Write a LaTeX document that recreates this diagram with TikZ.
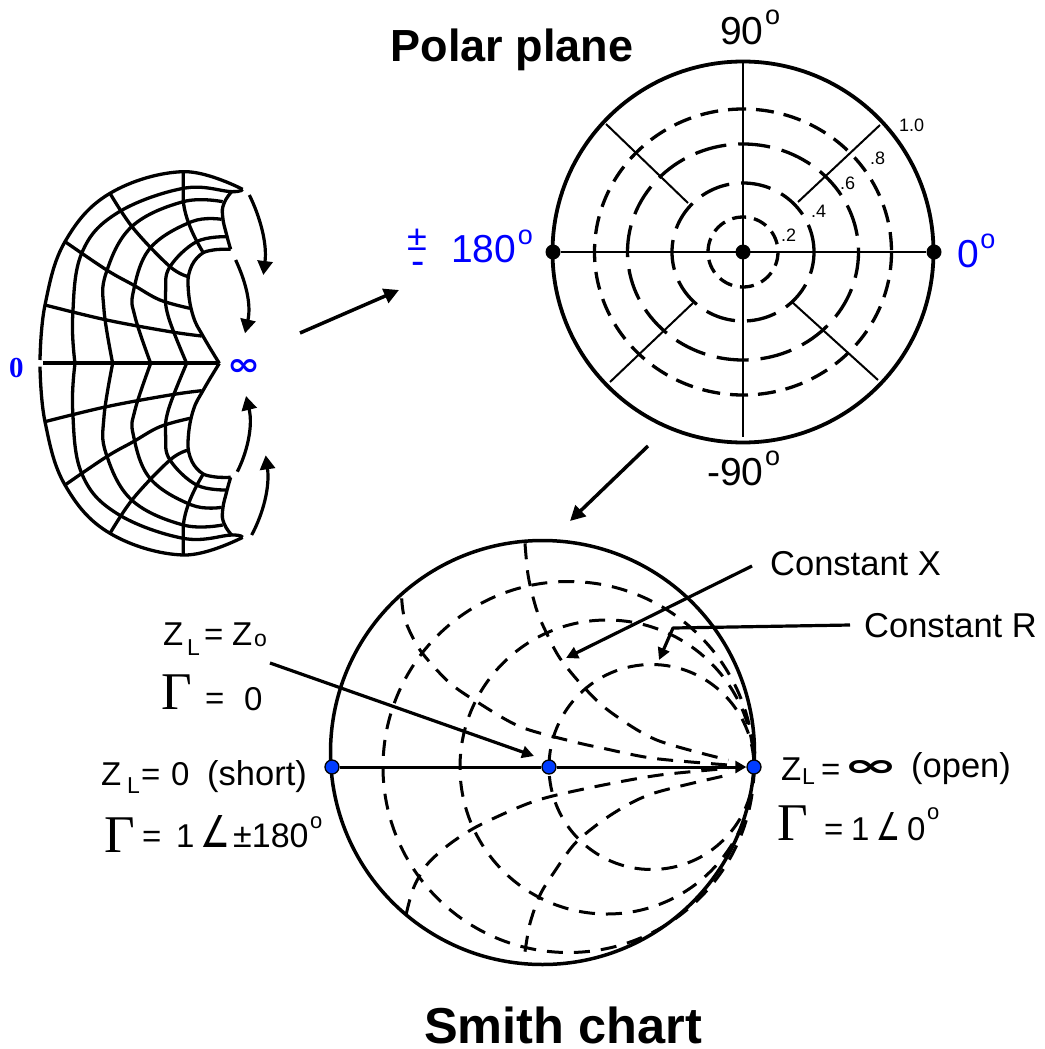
\documentclass[tikz,border=0pt]{standalone}
\usepackage{fontspec}
\usepackage{graphicx}
\setmainfont{Liberation Sans}
\newfontfamily\serifF{Liberation Serif}
\newfontfamily\dejaF{DejaVu Sans}
\usetikzlibrary{arrows.meta}
\definecolor{lblue}{RGB}{0,0,255}
\definecolor{dotblue}{RGB}{0,60,255}
\newcommand{\fsz}[1]{\fontsize{#1}{#1}\selectfont}
\newcommand{\degO}[2]{\kern1.5pt\raisebox{#2pt}{\fsz{#1}o}}
\newcommand{\halfgrid}{%
 \draw[grid] plot[smooth,tension=.65] coordinates {(728,88)(550,35)(330,100)(195,245)(135,435)(120,600)};
 \draw[grid] plot[smooth,tension=.65] coordinates {(728,88)(695,95)(550,85)(350,160)(245,280)(218,470)(225,610)};
 \draw[grid] plot[smooth,tension=.65] coordinates {(668,125)(550,125)(395,200)(318,340)(312,450)(338,610)};
 \draw[grid] plot[smooth,tension=.65] coordinates {(665,178)(575,185)(450,265)(400,395)(405,470)(452,610)};
 \draw[grid] plot[smooth,tension=.65] coordinates {(680,230)(590,245)(510,320)(497,390)(505,470)(560,610)};
 \draw[grid] plot[smooth,tension=.8] coordinates {(695,95)(672,130)(668,170)(680,225)(692,268)};
 \draw[grid] plot[smooth,tension=.7] coordinates {(692,268)(640,270)(600,285)(570,330)(565,390)(580,470)(610,530)(658,610)};
 \draw[grid] (550,35) -- (550,125) .. controls (555,170) and (575,220) .. (608,275);
 \draw[grid] plot[smooth,tension=.6] coordinates {(330,100)(400,205)(510,320)(565,350)};
 \draw[grid] plot[smooth,tension=.6] coordinates {(195,245)(320,330)(400,375)(480,420)(570,445)};
 \draw[grid] plot[smooth,tension=.6] coordinates {(135,435)(320,480)(510,515)(605,528)};
}
\tikzset{
 grid/.style={line width=3.3pt,line join=round},
 lbl/.style={inner sep=0pt,anchor=base west},
 thin line/.style={line width=2pt},
 ring/.style={line width=3.3pt},
 smdash/.style={line width=3pt,dash pattern=on 16pt off 11pt},
 bigarrow/.style={line width=3.5pt,-{Triangle[length=15pt,width=15pt]}},
 midarrow/.style={line width=3.2pt,-{Triangle[length=12pt,width=12pt]}},
 curarrow/.style={line width=3.2pt,-{Triangle[length=14pt,width=15pt]}},
 bdot/.style={circle,fill=black,inner sep=0pt,minimum size=15pt},
 sdot/.style={circle,fill=dotblue,draw=black,line width=1.3pt,inner sep=0pt,minimum size=14pt},
}
\begin{document}
\begin{tikzpicture}[x=1pt,y=-1pt]
\useasboundingbox (0,0) rectangle (1044,1049);
% ---- left mapped grid
\begin{scope}[x=.33333pt,y=-.33333pt,yshift=-160pt]
 \halfgrid
 \draw[grid,line width=4pt] (130,610) -- (658,610);
 \draw[curarrow] (748,105) .. controls (780,170) and (802,250) .. (790,345);
 \draw[curarrow] (707,300) .. controls (735,360) and (755,430) .. (735,520);
 \draw[curarrow] (712,935) .. controls (740,880) and (760,800) .. (738,708);
 \draw[curarrow] (755,1125) .. controls (790,1060) and (810,980) .. (797,886);
\end{scope}
\begin{scope}[x=.33333pt,y=.33333pt,yshift=-566.67pt]
 \halfgrid
\end{scope}
\node[lbl,text=lblue] (zero) at (9,377) {\serifF\bfseries\fsz{29}0};
\node[lbl,text=lblue] (infty) at (227.5,375) {\resizebox{33pt}{16pt}{\dejaF\bfseries ∞}};
% main arrows
\coordinate (a1s) at (300,333); \coordinate (a1e) at (399,290);
\draw[bigarrow] (a1s) -- (a1e);
\coordinate (a2s) at (648,446); \coordinate (a2e) at (570,521);
\draw[bigarrow] (a2s) -- (a2e);
% ---- polar plane
\node[anchor=base,inner sep=0pt] (ptitle) at (512,62) {\bfseries\fsz{45}Polar plane};
\draw[line width=3.8pt] (743,252) circle[radius=190.5];
\draw[ring,dash pattern=on 14pt off 8pt] (743,252) circle[radius=35];
\draw[ring,dash pattern=on 30pt off 12pt,dash phase=8pt] (743,252) ellipse[x radius=71,y radius=69];
\draw[ring,dash pattern=on 32pt off 12pt,dash phase=6pt] (743,252) ellipse[x radius=115.5,y radius=108];
\draw[ring,dash pattern=on 18pt off 10pt] (743,252) ellipse[x radius=148.5,y radius=143];
\node[bdot] (pl) at (553,252) {};
\node[bdot] (pc) at (743,252) {};
\node[bdot] (pr) at (934,252) {};
\coordinate (pt) at (743,62); \coordinate (pb) at (743,437);
\draw[thin line] (pl) -- (pr);
\draw[thin line] (pt) -- (pb);
\coordinate (ne1) at (880,125); \coordinate (ne2) at (798,202);
\coordinate (nw1) at (606,124); \coordinate (nw2) at (688,203);
\coordinate (sw1) at (610,382); \coordinate (sw2) at (693,303);
\coordinate (se1) at (878,380); \coordinate (se2) at (792,302);
\draw[thin line] (ne1) -- (ne2);
\draw[thin line] (nw1) -- (nw2);
\draw[thin line] (sw1) -- (sw2);
\draw[thin line] (se1) -- (se2);
\node[lbl] (t2) at (781,241) {\fsz{18}.2};
\node[lbl] (t4) at (811,217) {\fsz{18}.4};
\node[lbl] (t6) at (840,189) {\fsz{18}.6};
\node[lbl] (t8) at (870,164) {\fsz{18}.8};
\node[lbl] (t10) at (899,131) {\fsz{18}1.0};
\node[lbl] (n90) at (720,45) {\fsz{39}90\degO{27}{20}};
\node[lbl] (m90) at (707,485) {\fsz{39}-90\degO{27}{20}};
\node[lbl,text=lblue] (d0) at (957,267) {\fsz{39}0\degO{27}{19}};
\node[lbl,text=lblue] (d180) at (451,262) {\fsz{39}180\degO{27}{18}};
\node[lbl,text=lblue] (pm) at (407,250) {\fsz{36}±};
\node[lbl,text=lblue] (mn) at (411,274) {\fsz{40}-};
% ---- Smith chart
\draw[line width=3.5pt] (542.5,752.5) circle[radius=212];
\draw[smdash] (754,767) arc[start angle=0,end angle=360,radius=185.5];
\draw[smdash] (754,767) arc[start angle=0,end angle=360,radius=147];
\draw[smdash] (754,767) arc[start angle=0,end angle=360,radius=102.5];
\begin{scope}[x=.33333pt,y=-.33333pt,xshift=320pt,yshift=-530pt]
 \draw[smdash] plot[smooth] coordinates {(615,40)(625,140)(650,240)(680,310)(720,385)(790,470)(870,545)(1010,630)(1225,690)};
 \draw[smdash] plot[smooth] coordinates {(245,205)(255,270)(300,360)(385,455)(470,515)(600,590)(760,635)(850,655)(1000,685)(1225,705)};
 \draw[smdash] plot[smooth] coordinates {(258,1155)(280,1075)(320,1005)(385,945)(470,890)(600,830)(690,800)(850,765)(1020,735)(1225,715)};
 \draw[smdash] plot[smooth] coordinates {(615,1265)(630,1180)(660,1095)(700,1030)(770,935)(880,850)(1000,790)(1225,735)};
\end{scope}
\node[sdot] (sl) at (332,767) {};
\node[sdot] (sc) at (549,767) {};
\node[sdot] (sr) at (754,767) {};
\draw[line width=3pt] (sl) -- (sc);
\draw[line width=3pt,-{Triangle[length=11pt,width=12pt]}] (sc) -- (sr);
\coordinate (zs) at (270,663); \coordinate (ze) at (534,756);
\draw[midarrow] (zs) -- (ze);
\coordinate (xs) at (752,566); \coordinate (xe) at (566,658);
\draw[midarrow] (xs) -- (xe);
\coordinate (rs) at (850,625); \coordinate (rm) at (673,628); \coordinate (re) at (659,660);
\draw[midarrow,line join=round] (rs) -- (rm) -- (re);
\node[anchor=base,inner sep=0pt] (stitle) at (563,1043) {\bfseries\fsz{50.5}Smith chart};
\node[lbl] (cx) at (770,575) {\fsz{34.5}Constant X};
\node[lbl] (cr) at (864,637) {\fsz{34.5}Constant R};
% Z_L = Z_o
\node[lbl] (z1a) at (163,645) {\fsz{33}Z};
\node[lbl] (z1b) at (187,655) {\fsz{23}L};
\node[lbl] (z1c) at (204,645) {\fsz{33}=};
\node[lbl] (z1d) at (232,645) {\fsz{33}Z};
\node[lbl] (z1e) at (254,646) {\fsz{23}o};
\node[lbl] (g1a) at (161,709) {\serifF\fsz{53}Γ};
\node[lbl] (g1b) at (205,709) {\fsz{33}=};
\node[lbl] (g1c) at (244,710) {\fsz{33}0};
% Z_L = 0 short
\node[lbl] (z2a) at (101,785) {\fsz{33}Z};
\node[lbl] (z2b) at (127,793) {\fsz{23}L};
\node[lbl] (z2c) at (141,785) {\fsz{33}=};
\node[lbl] (z2d) at (171,785) {\fsz{33}0};
\node[lbl] (z2e) at (207,785) {\fsz{34.5}(short)};
\node[lbl] (g2a) at (104,852) {\serifF\fsz{53}Γ};
\node[lbl] (g2b) at (142,847) {\fsz{33}=};
\node[lbl] (g2c) at (176,847) {\fsz{33}1};
\node[lbl] (g2d) at (200,847) {\resizebox{30pt}{32pt}{\dejaF ∠}};
\node[lbl] (g2e) at (233,847) {\fsz{34}±180\degO{22}{19}};
% Z_L = inf open
\node[lbl] (z3a) at (781,780) {\fsz{33}Z};
\node[lbl] (z3b) at (802,784) {\fsz{23}L};
\node[lbl] (z3c) at (821,780) {\fsz{33}=};
\node[lbl] (z3d) at (843,776) {\resizebox{55pt}{16pt}{\dejaF\bfseries ∞}};
\node[lbl] (z3e) at (911,777) {\fsz{34.5}(open)};
\node[lbl] (g3a) at (777,840) {\serifF\fsz{53}Γ};
\node[lbl] (g3b) at (824,840) {\fsz{33}=};
\node[lbl] (g3c) at (851,840) {\fsz{33}1};
\node[lbl] (g3d) at (876,840) {\resizebox{24pt}{28pt}{\dejaF ∠}};
\node[lbl] (g3e) at (907,840) {\fsz{33}0\degO{22}{21}};
\end{tikzpicture}
\end{document}
